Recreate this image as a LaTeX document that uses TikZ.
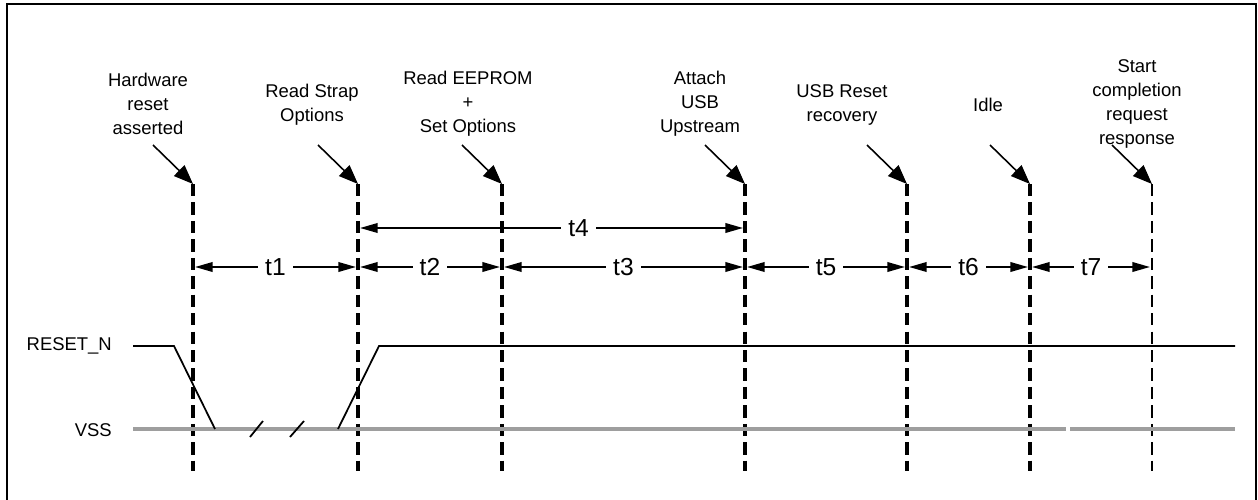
\documentclass[tikz,border=0pt]{standalone}
\usepackage{fontspec}
\setmainfont{Liberation Sans}
\usetikzlibrary{arrows.meta}
\definecolor{vssgray}{RGB}{158,158,158}
\tikzset{
  marker/.style={line width=2.3pt, dash pattern=on 7pt off 3.5pt},
  thinmarker/.style={line width=1.5pt, dash pattern=on 7pt off 3.5pt},
  pointer/.style={line width=0.9pt, -{Triangle[length=11pt,width=8.5pt]}},
  span/.style={line width=0.9pt, {Triangle[length=10pt,width=5.5pt]}-{Triangle[length=10pt,width=5.5pt]}, shorten <=1.2pt, shorten >=1.2pt},
  event/.style={align=center, font=\fontsize{10.5}{13.6}\selectfont},
  tlabel/.style={fill=white, inner sep=4pt, font=\fontsize{14}{16}\selectfont},
  signal/.style={line width=1pt},
  level/.style={line width=2.3pt, vssgray}
}
\begin{document}
\begin{tikzpicture}[x=0.02cm, y=-0.02cm]
                    \useasboundingbox (0,0) rectangle (1258,500);
                    % Frame
                    \draw [line width=1.1pt] (7,503) -- (7,4) -- (1256,4) -- (1256,503);
                    % Event texts
                    \node [event] (hw) at (148,104) {Hardware\\reset\\asserted};
                    \node [event] (strap) at (312,105) {Read Strap\\Options};
                    \node [event] (eeprom) at (468,104) {Read EEPROM\\+\\Set Options};
                    \node [event] (attach) at (700,104) {Attach\\USB\\Upstream};
                    \node [event] (usbrst) at (842,105) {USB Reset\\recovery};
                    \node [event] (idle) at (988,105) {Idle};
                    \node [event] (start) at (1137,104) {Start\\completion\\request\\response};
                    % Marker tops and bottoms
                    \coordinate (m1t) at (193,184); \coordinate (m1b) at (193,471);
                    \coordinate (m2t) at (358,184); \coordinate (m2b) at (358,471);
                    \coordinate (m3t) at (502,184); \coordinate (m3b) at (502,471);
                    \coordinate (m4t) at (745,184); \coordinate (m4b) at (745,471);
                    \coordinate (m5t) at (907,184); \coordinate (m5b) at (907,471);
                    \coordinate (m6t) at (1030,184); \coordinate (m6b) at (1030,471);
                    \coordinate (m7t) at (1152,184); \coordinate (m7b) at (1152,471);
                    % Dashed markers
                    \draw [marker] (m1t) -- (m1b);
                    \draw [marker] (m2t) -- (m2b);
                    \draw [marker] (m3t) -- (m3b);
                    \draw [marker] (m4t) -- (m4b);
                    \draw [marker] (m5t) -- (m5b);
                    \draw [marker] (m6t) -- (m6b);
                    \draw [thinmarker] (m7t) -- (m7b);
                    % Pointers
                    \coordinate (p1) at (153,145);
                    \coordinate (p2) at (318,145);
                    \coordinate (p3) at (462,145);
                    \coordinate (p4) at (705,145);
                    \coordinate (p5) at (867,145);
                    \coordinate (p6) at (990,145);
                    \coordinate (p7) at (1112,145);
                    \draw [pointer] (p1) -- (m1t);
                    \draw [pointer] (p2) -- (m2t);
                    \draw [pointer] (p3) -- (m3t);
                    \draw [pointer] (p4) -- (m4t);
                    \draw [pointer] (p5) -- (m5t);
                    \draw [pointer] (p6) -- (m6t);
                    \draw [pointer] (p7) -- (m7t);
                    % Intervals
                    \coordinate (s2) at (358,228); \coordinate (s4) at (745,228);
                    \draw [span] (s2) -- node [tlabel, pos=0.57] (t4) {t4} (s4);
                    \coordinate (d1) at (193,267); \coordinate (d2) at (358,267);
                    \coordinate (d3) at (502,267); \coordinate (d4) at (745,267);
                    \coordinate (d5) at (907,267); \coordinate (d6) at (1030,267);
                    \coordinate (d7) at (1152,267);
                    \draw [span] (d1) -- node [tlabel] (t1) {t1} (d2);
                    \draw [span] (d2) -- node [tlabel] (t2) {t2} (d3);
                    \draw [span] (d3) -- node [tlabel] (t3) {t3} (d4);
                    \draw [span] (d4) -- node [tlabel] (t5) {t5} (d5);
                    \draw [span] (d5) -- node [tlabel] (t6) {t6} (d6);
                    \draw [span] (d6) -- node [tlabel] (t7) {t7} (d7);
                    % Signal names
                    \node [event, anchor=east] (rst) at (118,346) {RESET\_N};
                    \node [event, anchor=east] (vss) at (118,430) {VSS};
                    % VSS level
                    \coordinate (g0) at (133,429); \coordinate (g1) at (1066,429);
                    \coordinate (g2) at (1070,429); \coordinate (g3) at (1235,429);
                    \draw [level] (g0) -- (g1);
                    \draw [level] (g2) -- (g3);
                    % RESET_N waveform
                    \draw [signal] (133,346) -- (174,346) -- (215,429);
                    \draw [signal] (338,429) -- (379,346) -- (1235,346);
                    % Time breaks
                    \draw [signal] (250,437) -- (263,421);
                    \draw [signal] (290,437) -- (304,421);
                \end{tikzpicture}
\end{document}
